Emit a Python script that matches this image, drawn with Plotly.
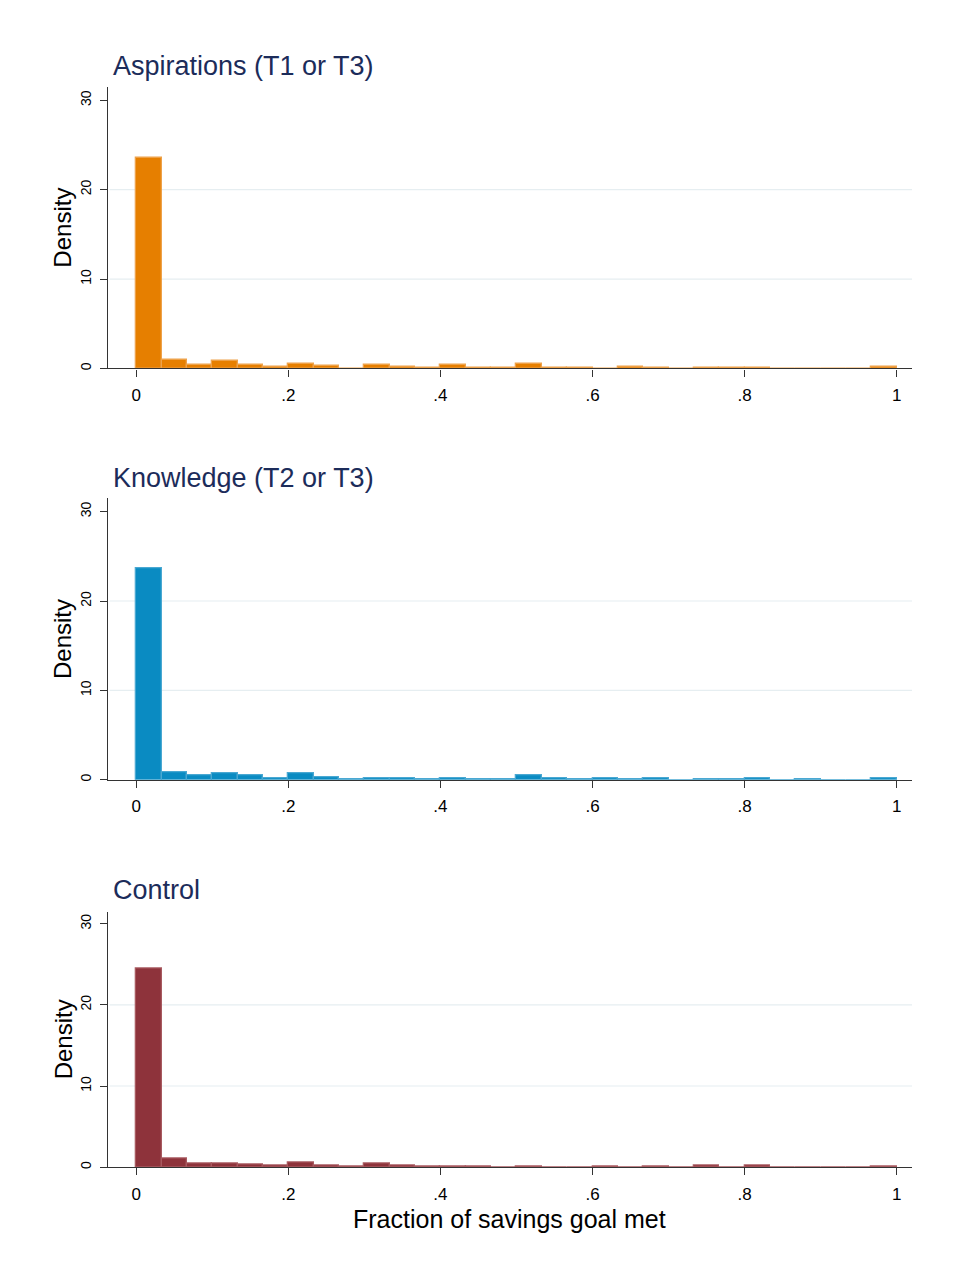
import numpy as np
import plotly.graph_objects as go

# ---- data ----
n_bins = 30
bin_width = 1.0 / n_bins
bin_starts = [i / n_bins for i in range(n_bins)]

panel_titles = ["Aspirations (T1 or T3)", "Knowledge (T2 or T3)", "Control"]

aspirations = [23.6, 0.95, 0.4, 0.85, 0.45, 0.2, 0.55, 0.25, 0.0, 0.35,
               0.12, 0.08, 0.35, 0.1, 0.1, 0.5, 0.1, 0.1, 0.0, 0.12,
               0.08, 0.0, 0.08, 0.1, 0.1, 0.0, 0.0, 0.0, 0.0, 0.12]
knowledge = [23.65, 0.86, 0.49, 0.78, 0.49, 0.19, 0.78, 0.3, 0.08, 0.15,
             0.15, 0.08, 0.2, 0.1, 0.1, 0.49, 0.15, 0.1, 0.12, 0.08,
             0.12, 0.0, 0.1, 0.1, 0.12, 0.0, 0.1, 0.0, 0.0, 0.12]
control = [24.45, 1.1, 0.5, 0.5, 0.33, 0.2, 0.62, 0.2, 0.08, 0.41,
           0.15, 0.08, 0.12, 0.08, 0.0, 0.12, 0.0, 0.0, 0.12, 0.0,
           0.12, 0.0, 0.15, 0.0, 0.15, 0.0, 0.0, 0.0, 0.0, 0.12]

series = [aspirations, knowledge, control]
colors = ["#e67f00", "#0a8bc2", "#8e333b"]
edge_colors = ["#eea24a", "#4aa8d2", "#a85a60"]

y_ticks = [0, 10, 20, 30]
grid_vals = [10, 20]
x_tickvals = [0, 0.2, 0.4, 0.6, 0.8, 1.0]
x_ticktext = ["0", ".2", ".4", ".6", ".8", "1"]

# ---- layout geometry (reference pixels in the 957x1279 window) ----
OFF = 8  # default page body margin
W, H = 957 - 2 * OFF, 1279 - 2 * OFF


def px_x(p):
    return (p - OFF) / W


def px_y(p):
    return 1 - (p - OFF) / H


x_dom = [px_x(108), px_x(912)]
panels_px = [(87, 369), (499, 781), (913, 1169)]
title_px = [66, 479, 891]

FONT = "Arial, Liberation Sans, sans-serif"

fig = go.Figure()
layout = dict(
    width=W, height=H,
    margin=dict(l=0, r=0, t=0, b=0),
    paper_bgcolor="white", plot_bgcolor="white",
    showlegend=False,
    bargap=0,
    font=dict(family=FONT, color="black"),
)
annotations = []
shapes = []

bin_centers = [s + bin_width / 2 for s in bin_starts]

for i, (vals, col, ecol) in enumerate(zip(series, colors, edge_colors)):
    k = "" if i == 0 else str(i + 1)
    xa, ya = "x" + k, "y" + k
    fig.add_trace(go.Bar(
        x=bin_centers, y=vals, width=bin_width,
        marker=dict(color=col, line=dict(color=ecol, width=1.3)),
        xaxis=xa, yaxis=ya, hoverinfo="x+y",
    ))
    top, bot = panels_px[i]
    y_dom = [px_y(bot), px_y(top)]
    layout["xaxis" + k] = dict(
        domain=x_dom, anchor=ya, range=[-0.037, 1.02],
        tickmode="array", tickvals=x_tickvals, ticktext=x_ticktext,
        ticks="outside", ticklen=7, tickwidth=1.3, tickcolor="#333333",
        ticklabelstandoff=4,
        showline=True, linecolor="#333333", linewidth=1.3,
        showgrid=False, zeroline=False,
        tickfont=dict(size=17, family=FONT, color="black"),
    )
    layout["yaxis" + k] = dict(
        domain=y_dom, anchor=xa, range=[0, 31.5],
        tickmode="array", tickvals=y_ticks,
        ticks="outside", ticklen=7, tickwidth=1.3, tickcolor="#333333",
        tickangle=-90, ticklabelstandoff=3,
        showline=True, linecolor="#333333", linewidth=1.3,
        showgrid=False, zeroline=False,
        tickfont=dict(size=14, family=FONT, color="black"),
    )
    for g in grid_vals:
        shapes.append(dict(
            type="line", xref=xa + " domain", yref=ya,
            x0=0.002, x1=1, y0=g, y1=g,
            line=dict(color="#e6eef1", width=1.2), layer="below",
        ))
    annotations.append(dict(
        text=panel_titles[i], xref="paper", yref="paper",
        x=px_x(111), y=px_y(title_px[i]), xanchor="left", yanchor="middle",
        showarrow=False, font=dict(size=27, family=FONT, color="#1c2c5a"),
    ))
    annotations.append(dict(
        text="Density", xref="paper", yref="paper",
        x=px_x(63), y=px_y((top + bot) / 2), xanchor="center", yanchor="middle",
        textangle=-90, showarrow=False,
        font=dict(size=24, family=FONT, color="black"),
    ))

annotations.append(dict(
    text="Fraction of savings goal met", xref="paper", yref="paper",
    x=px_x(510), y=px_y(1221), xanchor="center", yanchor="middle",
    showarrow=False, font=dict(size=25, family=FONT, color="black"),
))

layout["annotations"] = annotations
layout["shapes"] = shapes
fig.update_layout(**layout)
fig.write_html("out.html")
